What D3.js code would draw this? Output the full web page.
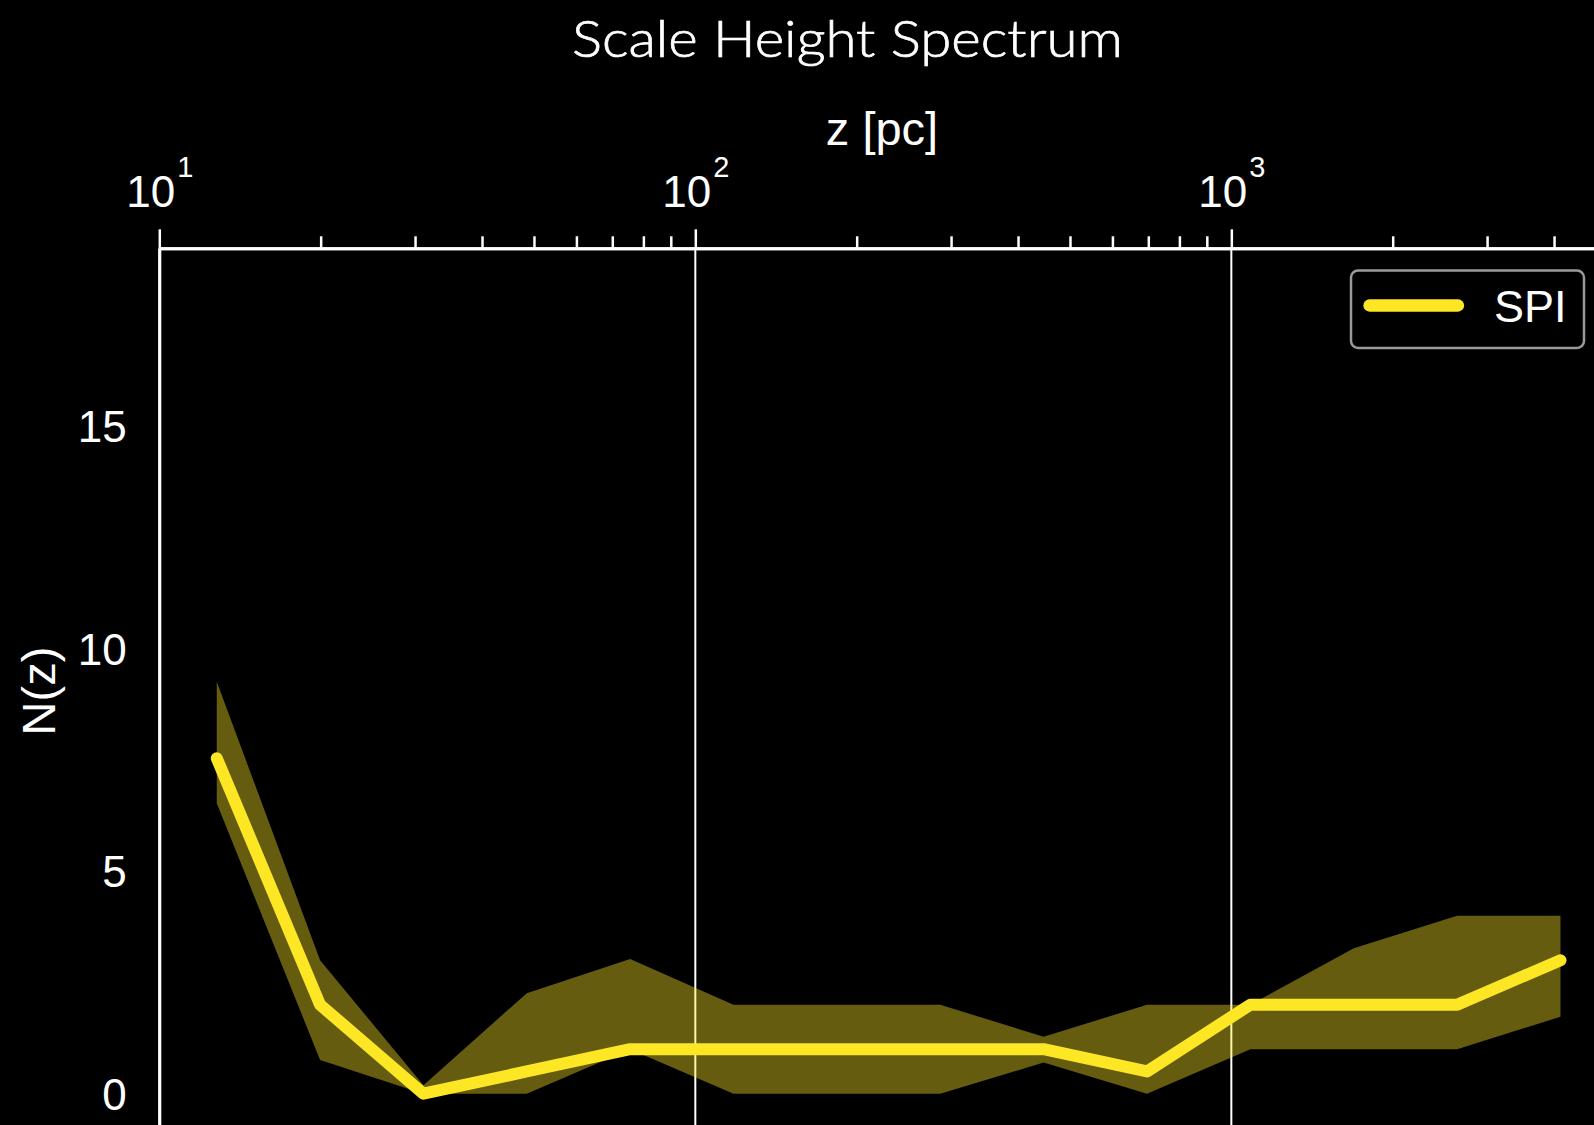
<!DOCTYPE html>
<html><head><meta charset="utf-8">
<script src="https://cdn.jsdelivr.net/npm/d3@7"></script>
<style>html,body{margin:0;padding:0;background:#000;overflow:hidden}</style>
</head><body>
<svg id="chart" width="1594" height="1125"></svg>
<script>
// ---- data ----
const zValues = [12.80, 19.95, 31.10, 48.48, 75.58, 117.8, 183.7, 286.4, 446.5, 696.1, 1085, 1692, 2638, 4112];
const nMedian = [7.54, 2, 0, 0.5, 1, 1, 1, 1, 1, 0.5, 2, 2, 2, 3];
const nLower  = [6.53, 0.76, 0, 0, 1, 0, 0, 0, 0.70, 0, 1, 1, 1, 1.73];
const nUpper  = [9.26, 3.0, 0.19, 2.26, 3.03, 2, 2, 2, 1.28, 2, 2, 3.27, 4, 4];
const majorTicks = [10, 100, 1000];
const minorTicks = [20, 30, 40, 50, 60, 70, 80, 90, 200, 300, 400, 500, 600, 700, 800, 900, 2000, 3000, 4000];
const yTicks = [0, 5, 10, 15];
const seriesName = "SPI";
const titleText = "Scale Height Spectrum";
const xLabelText = "z [pc]";
const yLabelText = "N(z)";

const W = 1594, H = 1125;
const pLeft = 159.3, pTop = 248.3, pRight = 1606, pBottom = 1138.2;
const color = "#FDE725";
const tickFont = "'Liberation Sans', Arial, Helvetica, sans-serif";

const svg = d3.select("#chart");
svg.append("rect").attr("width", W).attr("height", H).attr("fill", "#000");

const x = d3.scaleLog().domain([10, 5000]).range([pLeft, pRight]);
const y = d3.scaleLinear().domain([-1, 19]).range([pBottom, pTop]);

const data = zValues.map((z, i) => ({z, m: nMedian[i], lo: nLower[i], hi: nUpper[i]}));

// grid (vertical, major)
svg.append("g").selectAll("line").data(majorTicks).join("line")
  .attr("x1", d => x(d)).attr("x2", d => x(d))
  .attr("y1", pTop).attr("y2", H + 20)
  .attr("stroke", "#fff").attr("stroke-width", 2);

// band
svg.append("path").datum(data)
  .attr("d", d3.area().x(d => x(d.z)).y0(d => y(d.lo)).y1(d => y(d.hi)))
  .attr("fill", color).attr("fill-opacity", 0.4);

// median line
svg.append("path").datum(data)
  .attr("d", d3.line().x(d => x(d.z)).y(d => y(d.m)))
  .attr("fill", "none").attr("stroke", color).attr("stroke-width", 12)
  .attr("stroke-linejoin", "round").attr("stroke-linecap", "round");

// top axis: minor ticks
const gMinor = svg.append("g").attr("transform", `translate(0,${pTop})`)
  .call(d3.axisTop(x).tickValues(minorTicks).tickSize(12).tickSizeOuter(0).tickFormat(""));
// top axis: major ticks
const gMajor = svg.append("g").attr("transform", `translate(0,${pTop})`)
  .call(d3.axisTop(x).tickValues(majorTicks).tickSize(19).tickSizeOuter(0).tickFormat(""));
[gMinor, gMajor].forEach(g => {
  g.select(".domain").attr("stroke", "#fff").attr("stroke-width", 3);
  g.selectAll(".tick line").attr("stroke", "#fff").attr("stroke-width", 2.5);
});
// major tick labels 10^n
gMajor.selectAll(".tick").each(function(d) {
  const t = d3.select(this).append("text")
    .attr("y", 206.7 - pTop)
    .attr("text-anchor", "middle").attr("fill", "#fff")
    .attr("font-family", tickFont).attr("font-size", 44);
  t.append("tspan").text("10");
  t.append("tspan").attr("dx", 2).attr("dy", -30).attr("font-size", 29)
    .text(String(Math.round(Math.log10(d))));
});

// left axis
const gY = svg.append("g").attr("transform", `translate(${pLeft},0)`)
  .call(d3.axisLeft(y).tickValues(yTicks).tickSize(0).tickSizeOuter(0).tickPadding(0));
gY.select(".domain").attr("stroke", "#fff").attr("stroke-width", 3);
gY.selectAll(".tick text")
  .attr("x", -32.5).attr("dy", null).attr("y", 15.5)
  .attr("text-anchor", "end").attr("fill", "#fff")
  .attr("font-family", tickFont).attr("font-size", 44);

// axis labels
svg.append("text").attr("x", 882).attr("y", 145).attr("text-anchor", "middle")
  .attr("fill", "#fff").attr("font-family", tickFont).attr("font-size", 47).text(xLabelText);
svg.append("text").attr("transform", "translate(55,691) rotate(-90)").attr("text-anchor", "middle")
  .attr("fill", "#fff").attr("font-family", tickFont).attr("font-size", 47).text(yLabelText);

// title
svg.append("text").attr("x", 847.5).attr("y", 56.7).attr("text-anchor", "middle")
  .attr("fill", "#fff").attr("stroke", "#fff").attr("stroke-width", 0.7)
  .attr("font-family", "Lato, 'Open Sans', sans-serif")
  .attr("font-weight", 300).attr("font-size", 51)
  .attr("textLength", 551).attr("lengthAdjust", "spacingAndGlyphs").text(titleText);

// legend
const lg = svg.append("g");
lg.append("rect").attr("x", 1351).attr("y", 270.5).attr("width", 233).attr("height", 77.5).attr("rx", 7)
  .attr("fill", "#000").attr("stroke", "#9a9a9a").attr("stroke-width", 2.5);
lg.append("line").attr("x1", 1369.5).attr("x2", 1458).attr("y1", 305.5).attr("y2", 305.5)
  .attr("stroke", color).attr("stroke-width", 12.3).attr("stroke-linecap", "round");
lg.append("text").attr("x", 1494).attr("y", 321.7).attr("fill", "#fff")
  .attr("font-family", tickFont).attr("font-size", 45).text(seriesName);
</script>
</body></html>
